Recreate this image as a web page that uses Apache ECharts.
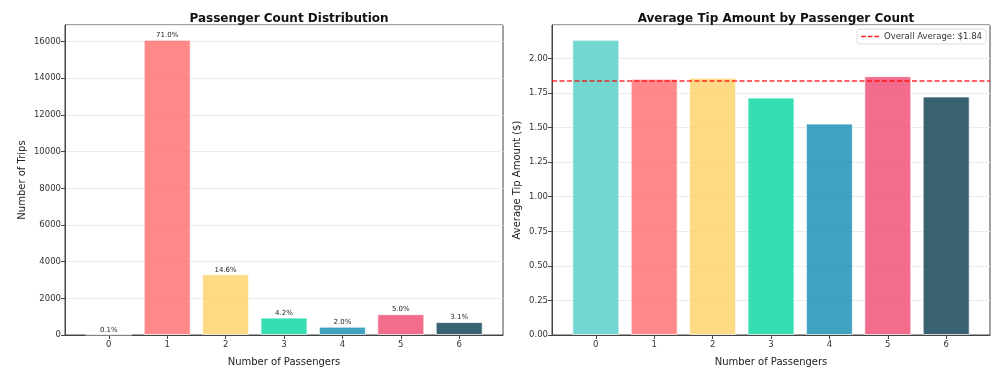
<!DOCTYPE html>
<html>
<head>
<meta charset="utf-8">
<script src="https://cdn.jsdelivr.net/npm/echarts@6/dist/echarts.min.js"></script>
<style>
  html, body { margin: 0; padding: 0; background: #fff; }
  #chart { width: 1002px; height: 375px; }
</style>
</head>
<body>
<div id="chart"></div>
<script>
const passengers = [0, 1, 2, 3, 4, 5, 6];
const tripCounts = [25, 16100, 3310, 950, 455, 1135, 705];
const avgTips = [2.135, 1.853, 1.86, 1.717, 1.529, 1.872, 1.725];
const overallAvg = 1.838;
const barColors = [
  'rgba(78,205,196,0.8)',
  'rgba(255,107,107,0.8)',
  'rgba(255,209,102,0.8)',
  'rgba(6,214,160,0.8)',
  'rgba(17,138,178,0.8)',
  'rgba(239,71,111,0.8)',
  'rgba(7,59,76,0.8)',
];

const font = 'DejaVu Sans';
const total = tripCounts.reduce((a, b) => a + b, 0);
const pctLabels = tripCounts.map((v) => ((v / total) * 100).toFixed(1) + '%');

const chart = echarts.init(document.getElementById('chart'));

// x axis like matplotlib: -0.75..6.75, ticks only on whole passenger counts
const xAxisBase = (gridIndex) => ({
  type: 'value',
  gridIndex,
  min: -0.75,
  max: 6.75,
  name: 'Number of Passengers',
  nameLocation: 'middle',
  nameGap: 22,
  nameTextStyle: { fontFamily: font, fontSize: 10, color: '#222' },
  axisLine: { show: true, onZero: false, lineStyle: { color: '#444', width: 1 } },
  axisTick: { show: true, length: 4, lineStyle: { color: '#444' }, customValues: passengers },
  axisLabel: { fontFamily: font, fontSize: 8.5, color: '#333', margin: 5, customValues: passengers },
  splitLine: { show: false },
});

const yAxisBase = (gridIndex) => ({
  type: 'value',
  gridIndex,
  nameLocation: 'middle',
  nameTextStyle: { fontFamily: font, fontSize: 10, color: '#222' },
  axisLine: { show: true, onZero: false, lineStyle: { color: '#444', width: 1 } },
  axisTick: { show: true, length: 4, lineStyle: { color: '#444' } },
  axisLabel: { fontFamily: font, fontSize: 8.5, color: '#333', margin: 4, showMaxLabel: false },
  splitLine: { show: true, lineStyle: { color: '#ebebeb', width: 1 } },
});

const leftY = yAxisBase(0);
leftY.min = 0;
leftY.max = 16905;
leftY.interval = 2000;
leftY.name = 'Number of Trips';
leftY.nameGap = 38;
leftY.axisLabel.formatter = (v) => String(v);

const rightY = yAxisBase(1);
rightY.min = 0;
rightY.max = 2.242;
rightY.interval = 0.25;
rightY.name = 'Average Tip Amount ($)';
rightY.nameGap = 30;
rightY.axisLabel.formatter = (v) => v.toFixed(2);

const option = {
  backgroundColor: '#fff',
  animation: false,
  title: [
    {
      text: 'Passenger Count Distribution',
      left: 284, top: 8, textAlign: 'center',
      textStyle: { fontFamily: font, fontSize: 12, fontWeight: 'bold', color: '#111' },
    },
    {
      text: 'Average Tip Amount by Passenger Count',
      left: 771, top: 8, textAlign: 'center',
      textStyle: { fontFamily: font, fontSize: 12, fontWeight: 'bold', color: '#111' },
    },
  ],
  legend: {
    right: 16, top: 29,
    data: [{
      name: 'Overall Average: $1.84',
      icon: 'path://M0,0h5v1.5h-5z M7,0h5v1.5h-5z M14,0h5v1.5h-5z',
      itemStyle: { color: 'rgba(255,0,0,0.85)' },
    }],
    itemWidth: 18, itemHeight: 2, itemGap: 6,
    padding: [3, 4, 3, 4],
    borderColor: '#ddd', borderWidth: 1, borderRadius: 3,
    backgroundColor: '#fff',
    textStyle: { fontFamily: font, fontSize: 8.5, color: '#333' },
  },
  grid: [
    { left: 65, top: 25, width: 438, height: 310, show: true, borderColor: '#444', borderWidth: 1, backgroundColor: 'transparent' },
    { left: 552, top: 25, width: 438, height: 310, show: true, borderColor: '#444', borderWidth: 1, backgroundColor: 'transparent' },
  ],
  xAxis: [xAxisBase(0), xAxisBase(1)],
  yAxis: [leftY, rightY],
  series: [
    {
      type: 'bar',
      xAxisIndex: 0, yAxisIndex: 0,
      barWidth: 47,
      data: passengers.map((p, i) => ({
        value: [p, tripCounts[i]],
        itemStyle: { color: barColors[i], borderColor: 'rgba(255,255,255,0.7)', borderWidth: 1 },
      })),
      label: {
        show: true, position: 'top', distance: 1,
        fontFamily: font, fontSize: 7, color: '#222',
        formatter: (p) => pctLabels[p.dataIndex],
      },
    },
    {
      type: 'bar',
      xAxisIndex: 1, yAxisIndex: 1,
      barWidth: 47,
      data: passengers.map((p, i) => ({
        value: [p, avgTips[i]],
        itemStyle: { color: barColors[i], borderColor: 'rgba(255,255,255,0.7)', borderWidth: 1 },
      })),
      z: 2,
    },
    {
      name: 'Overall Average: $1.84',
      type: 'line',
      xAxisIndex: 1, yAxisIndex: 1,
      data: [],
      symbol: 'none',
      lineStyle: { color: 'rgba(255,0,0,0.8)', type: [5, 2.5], width: 1.5 },
      markLine: {
        silent: true,
        symbol: 'none',
        label: { show: false },
        lineStyle: { color: 'rgba(255,0,0,0.8)', type: [5, 2.5], width: 1.5 },
        data: [{ yAxis: overallAvg }],
      },
      z: 5,
    },
  ],
};

chart.setOption(option);
</script>
</body>
</html>
